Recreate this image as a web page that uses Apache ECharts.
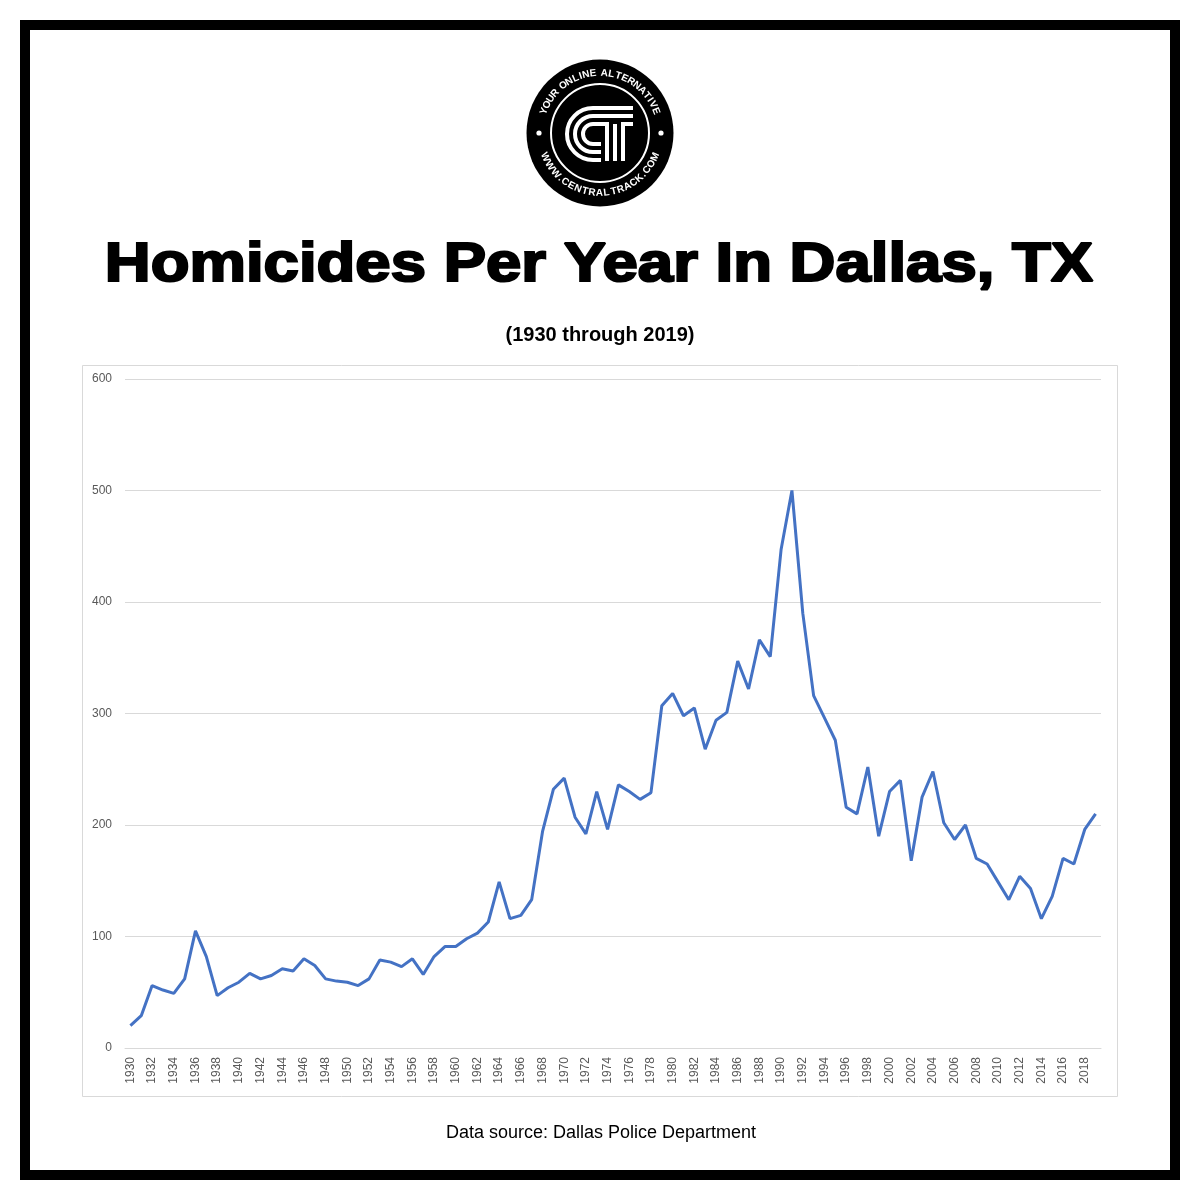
<!DOCTYPE html>
<html>
<head>
<meta charset="utf-8">
<script src="https://cdn.jsdelivr.net/npm/echarts@6/dist/echarts.min.js"></script>
<style>
html,body{margin:0;padding:0;background:#fff;}
#chart{width:1200px;height:1200px;}
</style>
</head>
<body>
<div id="chart"></div>
<script>
const years = ['1930','1931','1932','1933','1934','1935','1936','1937','1938','1939',
'1940','1941','1942','1943','1944','1945','1946','1947','1948','1949',
'1950','1951','1952','1953','1954','1955','1956','1957','1958','1959',
'1960','1961','1962','1963','1964','1965','1966','1967','1968','1969',
'1970','1971','1972','1973','1974','1975','1976','1977','1978','1979',
'1980','1981','1982','1983','1984','1985','1986','1987','1988','1989',
'1990','1991','1992','1993','1994','1995','1996','1997','1998','1999',
'2000','2001','2002','2003','2004','2005','2006','2007','2008','2009',
'2010','2011','2012','2013','2014','2015','2016','2017','2018','2019'];

const homicides = [20,29,56,52,49,62,105,82,47,54,
59,67,62,65,71,69,80,74,62,60,
59,56,62,79,77,73,80,66,82,91,
91,98,103,113,149,116,119,133,194,232,
242,207,192,230,196,236,230,223,229,307,
318,298,305,268,294,301,347,322,366,351,
447,500,390,316,296,276,216,210,252,190,
230,240,168,225,248,202,187,200,170,165,
149,133,154,143,116,136,170,165,196,210];

const yTicks = [0,100,200,300,400,500,600];

const titleText = 'Homicides Per Year In Dallas, TX';
const subtitleText = '(1930 through 2019)';
const sourceText = 'Data source: Dallas Police Department';
const logoTop = 'YOUR ONLINE ALTERNATIVE';
const logoBottom = 'WWW.CENTRALTRACK.COM';

// ---- logo helpers ----
const LX = 600, LY = 133;
function charWeight(c){
  if (c === '.' ) return 0.55;
  if (c === ' ') return 0.6;
  if (c === 'W') return 1.35;
  if (c === 'M') return 1.25;
  if (c === 'I') return 0.55;
  return 1;
}
function arcText(str, r, spanDeg, bottom){
  const ws = str.split('').map(charWeight);
  const total = ws.reduce((a,b)=>a+b,0);
  const out = [];
  let acc = 0;
  const span = spanDeg*Math.PI/180;
  str.split('').forEach((c,i)=>{
    const mid = (acc + ws[i]/2)/total;
    acc += ws[i];
    const a = -span/2 + mid*span;
    let x, y, rot;
    if (!bottom){
      x = LX + r*Math.sin(a); y = LY - r*Math.cos(a); rot = -a;
    } else {
      x = LX + r*Math.sin(a); y = LY + r*Math.cos(a); rot = a;
    }
    if (c === ' ') return;
    out.push({type:'text', x:x, y:y, rotation:rot, z:12,
      style:{text:c, fill:'#fff', font:'bold 10px "Liberation Sans", Arial, sans-serif',
        align:'center', verticalAlign:'middle'}});
  });
  return out;
}

const gs = {stroke:'#fff', lineWidth:4, fill:null, lineCap:'butt', lineJoin:'miter'};
function pl(points){ return {type:'polyline', z:12, shape:{points:points}, style:gs}; }
function ca(r){ return {type:'arc', z:12, shape:{cx:593, cy:134, r:r, startAngle:Math.PI/2, endAngle:Math.PI*1.5, clockwise:true}, style:gs}; }

const graphics = [
  // outer frame
  {type:'rect', shape:{x:25,y:25,width:1150,height:1150}, style:{fill:null, stroke:'#000', lineWidth:10}, z:1},
  // chart area box
  {type:'rect', shape:{x:82.5,y:365.5,width:1035,height:731}, style:{fill:null, stroke:'#d9d9d9', lineWidth:1}, z:1},
  // logo
  {type:'circle', shape:{cx:LX, cy:LY, r:73.5}, style:{fill:'#000'}, z:10},
  {type:'circle', shape:{cx:LX, cy:LY, r:49}, style:{fill:null, stroke:'#fff', lineWidth:2}, z:11},
  {type:'circle', shape:{cx:LX-61, cy:LY, r:2.6}, style:{fill:'#fff'}, z:11},
  {type:'circle', shape:{cx:LX+61, cy:LY, r:2.6}, style:{fill:'#fff'}, z:11},
  ca(26), ca(18), ca(10),
  pl([[593,160],[601,160]]), pl([[593,152],[601,152]]), pl([[593,144],[601,144]]),
  pl([[593,108],[633,108]]), pl([[593,116],[633,116]]),
  pl([[593,124],[607,124],[607,161]]),
  pl([[615,124],[615,161]]),
  pl([[633,124],[623,124],[623,161]]),
  // title
  {type:'text', x:599, y:266, scaleX:1.134, z:5,
    style:{text:titleText, fill:'#000', stroke:'#000', lineWidth:2.2,
      font:'bold 56px "Liberation Sans", Arial, sans-serif', align:'center', verticalAlign:'middle'}},
  {type:'text', x:600, y:335, z:5,
    style:{text:subtitleText, fill:'#000',
      font:'bold 20px "Liberation Sans", Arial, sans-serif', align:'center', verticalAlign:'middle'}},
  {type:'text', x:601, y:1133, z:5,
    style:{text:sourceText, fill:'#000',
      font:'18px "Liberation Sans", Arial, sans-serif', align:'center', verticalAlign:'middle'}}
].concat(arcText(logoTop, 60, 144, false)).concat(arcText(logoBottom, 60, 142, true));

const chart = echarts.init(document.getElementById('chart'), null, {renderer:'canvas'});
chart.setOption({
  backgroundColor:'#fff',
  animation:false,
  grid:{left:125, right:99, top:379, bottom:152, containLabel:false},
  xAxis:{
    type:'category', data:years, boundaryGap:true,
    axisLine:{show:true, lineStyle:{color:'#d9d9d9', width:1}},
    axisTick:{show:false},
    axisLabel:{rotate:90, interval:1, margin:9, color:'#595959',
      fontFamily:'"Liberation Sans", Arial, sans-serif', fontSize:12}
  },
  yAxis:{
    type:'value', min:0, max:600, interval:100,
    axisLine:{show:false}, axisTick:{show:false},
    splitLine:{show:true, lineStyle:{color:'#d9d9d9', width:1}},
    axisLabel:{margin:13, color:'#595959',
      fontFamily:'"Liberation Sans", Arial, sans-serif', fontSize:12,
      formatter:function(v){ return yTicks.indexOf(v) >= 0 ? String(v) : ''; }}
  },
  series:[{
    type:'line', data:homicides, showSymbol:false, symbol:'none',
    lineStyle:{color:'#4472C4', width:3}, itemStyle:{color:'#4472C4'},
    z:3
  }],
  graphic:graphics
});
</script>
</body>
</html>
